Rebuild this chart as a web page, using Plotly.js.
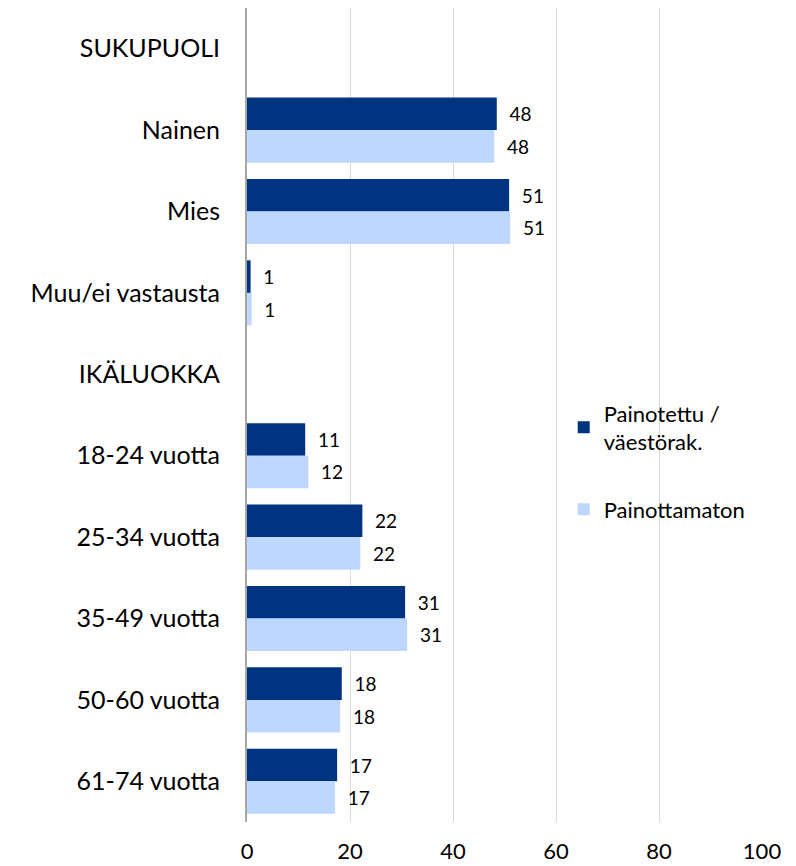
<!DOCTYPE html>
<html>
<head>
<meta charset="utf-8">
<script src="https://cdn.plot.ly/plotly-3.0.1.min.js"></script>
<style>html,body{margin:0;padding:0;background:#fff;}#chart{width:796px;height:866px;}</style>
</head>
<body>
<div id="chart"></div>
<script>
const categories = ["SUKUPUOLI", "Nainen", "Mies", "Muu/ei vastausta", "IKÄLUOKKA", "18-24 vuotta", "25-34 vuotta", "35-49 vuotta", "50-60 vuotta", "61-74 vuotta"];
const weighted = [null, 48.5, 50.9, 0.7, null, 11.3, 22.4, 30.7, 18.4, 17.5];
const unweighted = [null, 48.0, 51.1, 0.9, null, 11.9, 22.0, 31.1, 18.1, 17.1];
const weightedLabels = ["", "48", "51", "1", "", "11", "22", "31", "18", "17"];
const unweightedLabels = ["", "48", "51", "1", "", "12", "22", "31", "18", "17"];
const seriesNames = ["Painotettu /<br>väestörak.", "Painottamaton"];
const xTicks = [0, 20, 40, 60, 80, 100];

const FONT = "Lato, 'Open Sans', sans-serif";
const pad = "\u00a0\u00a0";

const traces = [
  {
    type: "bar", orientation: "h", name: seriesNames[0], legendgroup: "a",
    y: categories, x: weighted,
    text: weightedLabels.map(t => t ? pad + t : ""), textposition: "outside", cliponaxis: false,
    textfont: {family: FONT, size: 19, color: "#000"},
    marker: {color: "#003380", line: {width: 0}},
    hoverinfo: "skip"
  },
  {
    type: "bar", orientation: "h", name: seriesNames[1], legendgroup: "b",
    y: categories, x: unweighted,
    text: unweightedLabels.map(t => t ? pad + t : ""), textposition: "outside", cliponaxis: false,
    textfont: {family: FONT, size: 19, color: "#000"},
    marker: {color: "#bdd7fd", line: {width: 0}},
    hoverinfo: "skip"
  }
];

const layout = {
  width: 796, height: 866,
  margin: {l: 247, r: 34, t: 8, b: 44},
  paper_bgcolor: "#fff", plot_bgcolor: "#fff",
  font: {family: FONT, color: "#000"},
  barmode: "group", bargap: 0.2, bargroupgap: 0,
  showlegend: true,
  legend: {
    x: 0.615, y: 0.528, xanchor: "left", yanchor: "top",
    font: {family: FONT, size: 22, color: "#000"},
    traceorder: "grouped", tracegroupgap: 36,
    itemwidth: 30, bgcolor: "rgba(0,0,0,0)"
  },
  xaxis: {
    range: [0, 100], tickvals: xTicks, ticktext: xTicks.map(String),
    showgrid: true, gridcolor: "#d9d9d9", gridwidth: 1,
    zeroline: false, showline: false, ticks: "",
    tickfont: {family: FONT, size: 22, color: "#000"}, ticklen: 0,
    ticklabelstandoff: 14,
    fixedrange: true
  },
  yaxis: {
    type: "category", autorange: "reversed",
    showline: true, linecolor: "#a6a6a6", linewidth: 2,
    showgrid: false, zeroline: false, ticks: "",
    tickfont: {family: FONT, size: 25, color: "#000"},
    ticklabelstandoff: 20,
    fixedrange: true
  }
};

Plotly.newPlot("chart", traces, layout, {staticPlot: true, displayModeBar: false});
</script>
</body>
</html>
